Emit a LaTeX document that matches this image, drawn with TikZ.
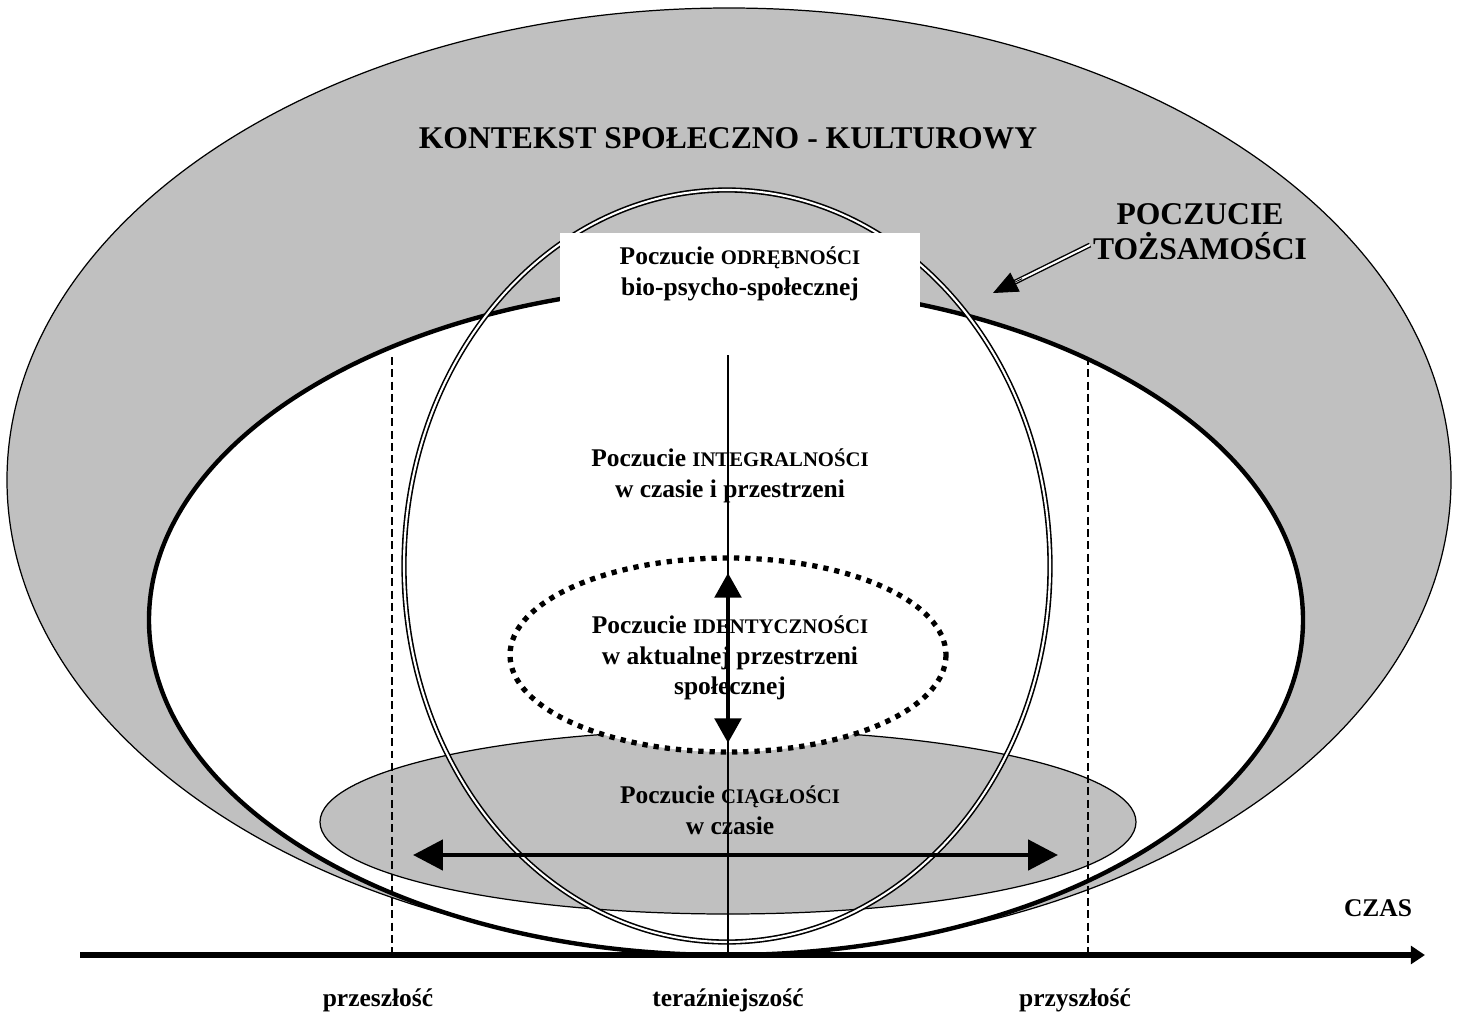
\documentclass[tikz,border=0pt]{standalone}
\usepackage{fontspec}
\setmainfont{Liberation Serif}
\usepackage{xcolor}
\usetikzlibrary{arrows.meta,calc}
\definecolor{shadegray}{RGB}{192,192,192}
\newcommand{\smcaps}[1]{{\fontsize{11.8}{17.5}\selectfont #1}}

\begin{document}
\begin{tikzpicture}[x=0.02cm,y=-0.02cm,
  lbl/.style={font=\bfseries\fontsize{14.5}{17.5}\selectfont,align=center,inner sep=0pt},
  biglbl/.style={font=\bfseries\fontsize{18}{20}\selectfont,align=center,inner sep=0pt},
  dblarrow/.style={line width=2.4pt,{Triangle[length=14pt,width=15pt]}-{Triangle[length=14pt,width=15pt]}}]
\useasboundingbox (0,0) rectangle (1458,1021);
\coordinate (Out) at (729,480); \coordinate (Tzs) at (726,620); \coordinate (Odr) at (727,566);
\coordinate (Cia) at (728,822); \coordinate (Ide) at (728,655);
\coordinate (t0) at (80,955); \coordinate (t1) at (1425,955);
\coordinate (vtop) at (728,355); \coordinate (vbot) at (728,955);
\coordinate (pL) at (392,357); \coordinate (pLb) at (392,953);
\coordinate (fR) at (1088,357); \coordinate (fRb) at (1088,953);
\coordinate (aU) at (728,573); \coordinate (aD) at (728,743);
\coordinate (aL) at (413,855); \coordinate (aR) at (1058,855);
\coordinate (ts) at (1090,245); \coordinate (tt) at (993,293);
% ellipses
\filldraw[fill=shadegray,line width=0.7pt] (Out) ellipse [x radius=722,y radius=472];
\filldraw[fill=white,line width=2.5pt] (Tzs) ellipse [x radius=577,y radius=335];
\filldraw[fill=shadegray,line width=0.7pt] (Cia) ellipse [x radius=408,y radius=92];
\draw[fill=white,line width=3pt,dash pattern=on 3pt off 3.4pt] (Ide) ellipse [x radius=218,y radius=97];
\draw[double,double distance=1.2pt,line width=0.9pt] (Odr) ellipse [x radius=323,y radius=376];
% labels
\node[biglbl] (kontekst) at (728,138) {KONTEKST SPOŁECZNO - KULTUROWY};
\node[biglbl] (tozsam) at (1200,232) {POCZUCIE\\TOŻSAMOŚCI};
\node[lbl,fill=white,minimum width=7.22cm,minimum height=1.64cm] (odrebn) at (740,274) {Poczucie \smcaps{ODRĘBNOŚCI}\\bio-psycho-społecznej};
\node[lbl] (integr) at (730,476) {Poczucie \smcaps{INTEGRALNOŚCI}\\w czasie i przestrzeni};
\node[lbl] (ident) at (730,658) {Poczucie \smcaps{IDENTYCZNOŚCI}\\w aktualnej przestrzeni\\społecznej};
\node[lbl] (ciagl) at (730,810) {Poczucie \smcaps{CIĄGŁOŚCI}\\w czasie};
\node[lbl] (czas) at (1378,908) {CZAS};
\node[lbl] (przesz) at (378,1000) {przeszłość};
\node[lbl] (teraz) at (728,1000) {teraźniejszość};
\node[lbl] (przysz) at (1075,1000) {przyszłość};
% lines and arrows
\draw[line width=0.6pt,dash pattern=on 4.5pt off 2.5pt] (pL) -- (pLb) (fR) -- (fRb);
\draw[line width=0.7pt] (vtop) -- (vbot);
\draw[dblarrow] (aU) -- (aD);
\draw[line width=2.8pt,{Triangle[length=17pt,width=17pt]}-{Triangle[length=17pt,width=17pt]}] (aL) -- (aR);
\draw[double,double distance=1.2pt,line width=0.8pt] (ts) -- ($(ts)!0.82!(tt)$);
\draw[line width=0.5pt,-{Triangle[length=14pt,width=12pt]}] ($(ts)!0.7!(tt)$) -- (tt);
\draw[line width=3pt,-{Triangle[length=8pt,width=10pt]}] (t0) -- (t1);
\end{tikzpicture}
\end{document}
